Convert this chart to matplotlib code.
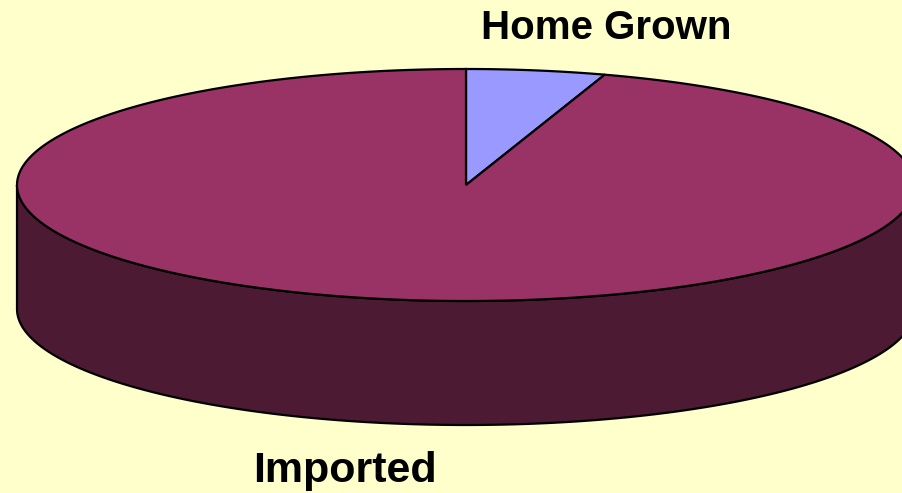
import numpy as np
import matplotlib
matplotlib.use("Agg")
import matplotlib.pyplot as plt
from matplotlib.patches import Polygon

labels = ["Home Grown", "Imported"]
values = [5, 95]
top_colors = ["#9999FF", "#993366"]
side_colors = ["#4D4D80", "#4C1A33"]
BG = "#FFFFCC"

# projected ellipse of the pie top (pixels), and the extrusion depth
CX, CY, RX, RY, DEPTH = 466, 185, 449, 116, 124


def ell(t, dy=0.0):
    t = np.radians(t)
    return np.column_stack([CX + RX * np.cos(t), CY - RY * np.sin(t) + dy])


fig = plt.figure(figsize=(9.02, 4.93), dpi=100, facecolor=BG)
ax = fig.add_axes([0, 0, 1, 1])
ax.set_xlim(0, 902)
ax.set_ylim(493, 0)
ax.axis("off")

fr = np.array(values, float) / sum(values)
a0 = 90.0 - 360 * np.concatenate([[0], np.cumsum(fr)[:-1]])
a1 = a0 - 360 * fr

# sides: front (lower) half of each slice's arc
for s, e, c in zip(a0, a1, side_colors):
    for k in range(-2, 2):
        lo, hi = max(e, -180 + 360 * k), min(s, 360 * k)
        if hi <= lo:
            continue
        t = np.linspace(lo, hi, 200)
        pts = np.vstack([ell(t), ell(t[::-1], DEPTH)])
        ax.add_patch(Polygon(pts, closed=True, fc=c, ec="black", lw=1.6, zorder=1))

# tops
for s, e, c in zip(a0, a1, top_colors):
    t = np.linspace(s, e, 400)
    pts = np.vstack([[CX, CY], ell(t)])
    ax.add_patch(Polygon(pts, closed=True, fc=c, ec="black", lw=1.6, zorder=2))

ax.text(606, 39, labels[0], ha="center", va="baseline", fontsize=29,
        fontweight="bold", family="Liberation Sans")
ax.text(345, 482, labels[1], ha="center", va="baseline", fontsize=31,
        fontweight="bold", family="Liberation Sans")

fig.savefig("out.png", dpi=100, facecolor=BG)
